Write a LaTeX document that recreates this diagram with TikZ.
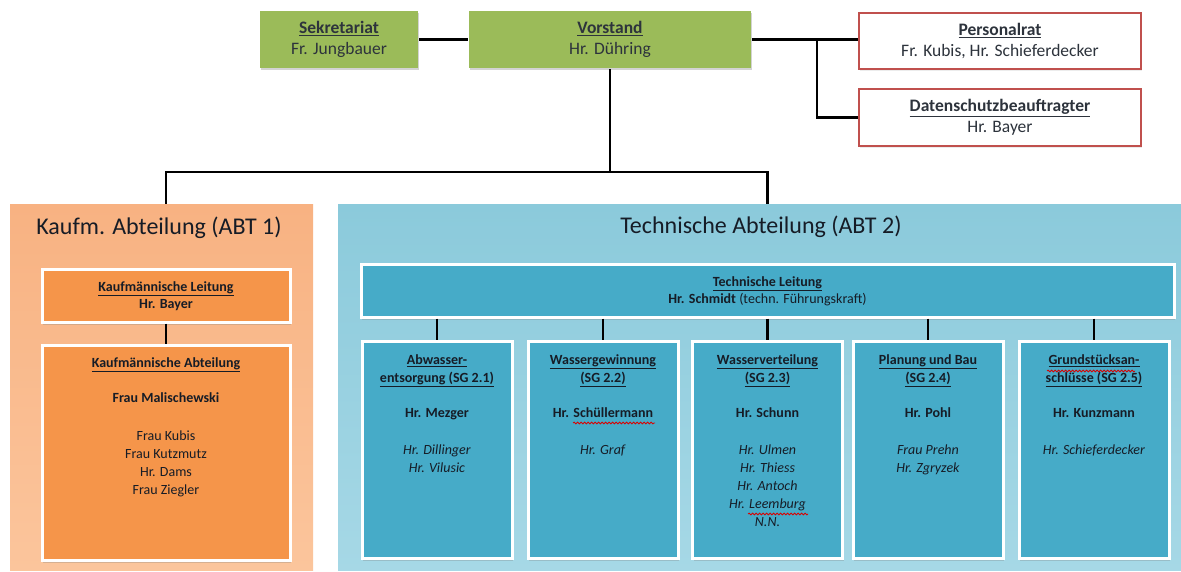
\documentclass[tikz,border=0pt]{standalone}
\usepackage{fontspec}
\setmainfont{Carlito}
\usetikzlibrary{shadows, decorations.pathmorphing}

\definecolor{boardgreen}{HTML}{9BBB59}
\definecolor{councilred}{HTML}{C0504D}
\definecolor{kaufmlight}{HTML}{F8B282}
\definecolor{kaufmpale}{HTML}{FBC59C}
\definecolor{kaufmbox}{HTML}{F5954A}
\definecolor{techlight}{HTML}{8BCADB}
\definecolor{techpale}{HTML}{A6D8E6}
\definecolor{techbox}{HTML}{46ABC8}
\definecolor{ink}{HTML}{161C26}

\newcommand{\boxhead}[1]{\underline{\textbf{#1}}}

\begin{document}
\begin{tikzpicture}[
    x = 1pt, y = -1pt,
    line width = 2.6pt,
    %
    board/.style = {fill = boardgreen, draw = none,
      text = ink!90,
      font = \fontsize{17.5}{21}\selectfont,
      align = center,
      drop shadow = {shadow xshift = 1pt, shadow yshift = -2.5pt, opacity = .35}},
    council/.style = {fill = white, draw = councilred, line width = 2.2pt,
      text = ink!90,
      font = \fontsize{17.5}{21}\selectfont,
      align = center,
      drop shadow = {shadow xshift = 1pt, shadow yshift = -2pt, opacity = .15}},
    %
    panel/.style = {draw = none, inner sep = 0},
    paneltitle/.style = {text = ink, font = \fontsize{24}{29}\selectfont},
    %
    unit/.style = {draw = white, line width = 3pt,
      text = ink,
      font = \fontsize{14}{17}\selectfont,
      align = center,
      drop shadow = {shadow xshift = 1pt, shadow yshift = -2.5pt, opacity = .3}},
    unittext/.style = {anchor = north, yshift = -14pt, inner sep = 0,
      text = ink, align = center,
      font = \fontsize{14}{18}\selectfont},
    %
    kaufm/.style = {unit, fill = kaufmbox},
    tech/.style = {unit, fill = techbox},
    %
    typo/.style = {red!85!black, line width = .8pt, decorate,
      decoration = {snake, amplitude = .9pt, segment length = 3.5pt}},
    ]

    \useasboundingbox (0, 0) rectangle (1181, 572);

    % management row
    \node at (339, 39.5)
    [board, minimum width = 158, minimum height = 57, name = sekretariat]
    {\boxhead{Sekretariat}\\ Fr. Jungbauer};
    \node at (610, 39.5)
    [board, minimum width = 282, minimum height = 57, name = vorstand]
    {\boxhead{Vorstand}\\ Hr. Dühring};

    \node at (1000, 41)
    [council, minimum width = 282, minimum height = 56, name = personalrat]
    {\boxhead{Personalrat}\\ Fr. Kubis, Hr. Schieferdecker};
    \node at (1000, 117.5)
    [council, minimum width = 282, minimum height = 57, name = datenschutz]
    {\boxhead{Datenschutzbeauftragter}\\ Hr. Bayer};

    % departments
    \node at (161.5, 387.5)
    [panel, top color = kaufmlight, bottom color = kaufmpale,
      minimum width = 303, minimum height = 365, name = abt1] {};
    \node at (759.5, 387.5)
    [panel, top color = techlight, bottom color = techpale,
      minimum width = 843, minimum height = 365, name = abt2] {};

    \node at (159, 228) [paneltitle, name = abt1title] {Kaufm. Abteilung (ABT 1)};
    \node at (761, 227) [paneltitle, name = abt2title] {Technische Abteilung (ABT 2)};

    % ABT 1
    \node at (166, 296)
    [kaufm, minimum width = 248, minimum height = 52, name = kleitung]
    {\boxhead{Kaufmännische Leitung}\\ \textbf{Hr. Bayer}};
    \node at (166, 452.5)
    [kaufm, minimum width = 248, minimum height = 215, name = kabt] {};
    \node at (kabt.north) [unittext, yshift = 1pt, name = kabttext]
    {\boxhead{Kaufmännische Abteilung}\\[17pt]
      \textbf{Frau Malischewski}\\[20pt]
      Frau Kubis\\ Frau Kutzmutz\\ Hr. Dams\\ Frau Ziegler};

    % ABT 2
    \node at (767.5, 291)
    [tech, minimum width = 813, minimum height = 52, name = tleitung]
    {\boxhead{Technische Leitung}\\ \textbf{Hr. Schmidt} (techn. Führungskraft)};

    \foreach \i/\x in {1/437, 2/603, 3/767.5, 4/928, 5/1094}
      \node at (\x, 449.5)
      [tech, minimum width = 150, minimum height = 217, name = sg\i] {};

    \node at (sg1.north) [unittext, name = sg1text]
    {\boxhead{Abwasser-}\\ \boxhead{entsorgung (SG 2.1)}\\[17pt]
      \textbf{Hr. Mezger}\\[19pt]
      \textit{Hr. Dillinger}\\ \textit{Hr. Vilusic}};
    \node at (sg2.north) [unittext, name = sg2text]
    {\boxhead{Wassergewinnung}\\ \boxhead{(SG 2.2)}\\[17pt]
      \textbf{Hr. Schüllermann}\\[19pt]
      \textit{Hr. Graf}};
    \node at (sg3.north) [unittext, name = sg3text]
    {\boxhead{Wasserverteilung}\\ \boxhead{(SG 2.3)}\\[17pt]
      \textbf{Hr. Schunn}\\[19pt]
      \textit{Hr. Ulmen}\\ \textit{Hr. Thiess}\\ \textit{Hr. Antoch}\\
      \textit{Hr. Leemburg}\\ \textit{N.N.}};
    \node at (sg4.north) [unittext, name = sg4text]
    {\boxhead{Planung und Bau}\\ \boxhead{(SG 2.4)}\\[17pt]
      \textbf{Hr. Pohl}\\[19pt]
      \textit{Frau Prehn}\\ \textit{Hr. Zgryzek}};
    \node at (sg5.north) [unittext, name = sg5text]
    {\boxhead{Grundstücksan-}\\ \boxhead{schlüsse (SG 2.5)}\\[17pt]
      \textbf{Hr. Kunzmann}\\[19pt]
      \textit{Hr. Schieferdecker}};

    % spell-check squiggles
    \draw [typo] (573, 423) -- (655, 423);
    \draw [typo] (748, 514) -- (808, 514);
    \draw [typo] (1047, 371) -- (1135, 371);

    % connectors
    \coordinate (busline) at (0, 172);
    \coordinate (dsjoint) at (817, 0);

    \draw (sekretariat) -- (vorstand);
    \draw (vorstand.east) -- (vorstand.east -| personalrat.west);
    \draw (vorstand.east -| dsjoint) |- (datenschutz.west);

    \draw (vorstand) -- (vorstand |- busline);
    \draw (kleitung |- abt1.north) -- (kleitung |- busline)
      -- (tleitung |- busline) -- (tleitung |- abt2.north);

    \draw (kleitung) -- (kabt);
    \foreach \i in {1, ..., 5}
      \draw (tleitung.south -| sg\i) -- (sg\i.north);

  \end{tikzpicture}
\end{document}
